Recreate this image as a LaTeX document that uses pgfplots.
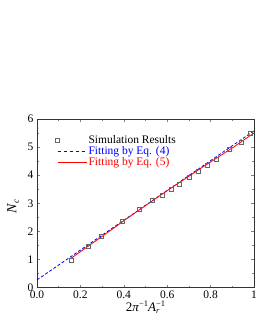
\documentclass[border=0pt]{standalone}
\usepackage{fontspec}
\setmainfont{Liberation Serif}
\usepackage{pgfplots}
\pgfplotsset{compat=1.18}
\pgfplotstableread{
x y
0.157 0.98
0.234 1.46
0.294 1.81
0.392 2.35
0.471 2.77
0.530 3.09
0.577 3.29
0.617 3.51
0.654 3.69
0.702 3.94
0.743 4.14
0.785 4.37
0.825 4.57
0.886 4.91
0.939 5.18
0.985 5.48
}\simdata
\pgfplotstableread{
x y
0.0 0.27
1.0 5.58
}\fitfour
\pgfplotstableread{
x y
0.155 1.03
0.30 1.82
0.45 2.65
0.60 3.45
0.75 4.22
0.90 4.97
1.00 5.50
}\fitfive
\begin{document}
\begin{tikzpicture}
\useasboundingbox (-37pt,-42.5pt) rectangle (218pt,287.5pt);
\begin{axis}[
  at={(0pt,0pt)}, anchor=south west,
  scale only axis, width=217pt, height=168.5pt,
  xmin=0, xmax=1, ymin=0, ymax=6,
  xtick={0,0.2,0.4,0.6,0.8,1},
  xticklabels={0.0,0.2,0.4,0.6,0.8,1},
  minor xtick={0.1,0.3,0.5,0.7,0.9},
  ytick={0,1,2,3,4,5,6},
  minor ytick={0.5,1.5,2.5,3.5,4.5,5.5},
  tick align=inside,
  major tick length=3pt, minor tick length=1.8pt,
  tick style={line width=0.5pt},
  axis line style={line width=0.8pt, black!80},
  /pgf/number format/assume math mode=true,
  ticklabel style={font=\fontsize{11.5}{13}\selectfont},
  xlabel={2\textit{π}\raisebox{4.5pt}{\fontsize{8.5}{9}\selectfont −1}\textit{A}\rlap{\raisebox{-2.5pt}{\fontsize{8.5}{9}\selectfont\textit{r}}}\raisebox{4.5pt}{\fontsize{8.5}{9}\selectfont −1}},
  ylabel={\textit{N}\raisebox{-2.5pt}{\fontsize{9}{10}\selectfont\textit{c}}},
  every axis x label/.style={at={(axis description cs:0.5,0)}, anchor=center, yshift=-20pt, font=\fontsize{13}{15}\selectfont},
  every axis y label/.style={at={(axis description cs:-0.11,0.48)}, anchor=center, rotate=90, font=\fontsize{14}{16}\selectfont},
  legend style={draw=none, fill=none, at={(0.07,0.925)}, anchor=north west,
    font=\fontsize{11.5}{13}\selectfont, row sep=-1.5pt,
    nodes={inner sep=1.5pt, anchor=west}},
  legend cell align=left,
]
\addplot[only marks, mark=square, mark size=2pt, color=gray!80!black, mark options={line width=0.5pt},
  legend image code/.code={\draw[gray!80!black, line width=0.5pt] (-2pt,-2pt) rectangle (2pt,2pt);}] table[x=x,y=y] {\simdata};
\addlegendentry{Simulation Results}
\addplot[color=blue, dash pattern=on 3pt off 2pt, line width=0.8pt,
  legend image code/.code={\draw[draw=blue, solid, line width=0.8pt] (0pt,0pt) -- (3.5pt,0pt) (6pt,0pt) -- (9.5pt,0pt) (12pt,0pt) -- (15.5pt,0pt) (18pt,0pt) -- (21.5pt,0pt) (24pt,0pt) -- (27.5pt,0pt);}] table[x=x,y=y] {\fitfour};
\addlegendentry{\textcolor{blue}{Fitting by Eq. (4)}}
\addplot[color=red, line width=0.8pt,
  legend image code/.code={\draw[red, line width=0.8pt] (0pt,0pt) -- (29pt,0pt);}] table[x=x,y=y] {\fitfive};
\addlegendentry{\textcolor{red}{Fitting by Eq. (5)}}
\end{axis}
\end{tikzpicture}
\end{document}
